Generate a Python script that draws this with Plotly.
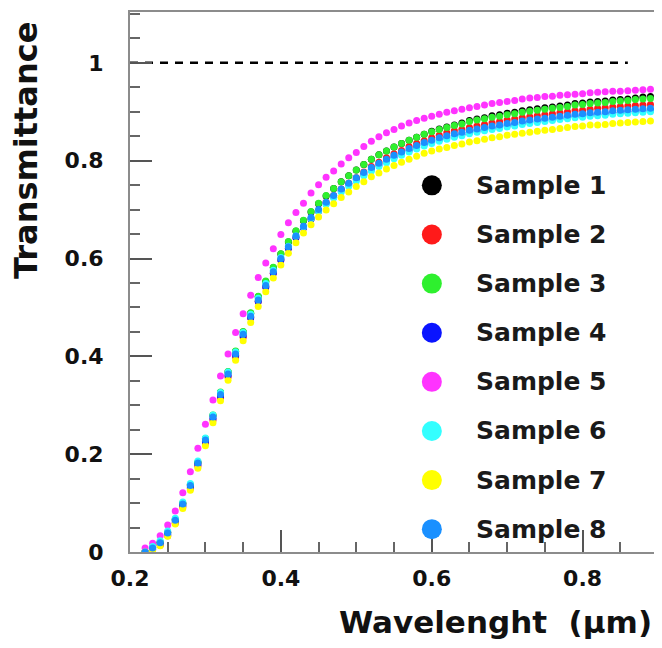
import plotly.graph_objects as go

wavelength = [0.22, 0.23, 0.24, 0.25, 0.26, 0.27, 0.28, 0.29, 0.30, 0.31,
              0.32, 0.33, 0.34, 0.35, 0.36, 0.37, 0.38, 0.39, 0.40, 0.41,
              0.42, 0.43, 0.44, 0.45, 0.46, 0.47, 0.48, 0.49, 0.50, 0.51,
              0.52, 0.53, 0.54, 0.55, 0.56, 0.57, 0.58, 0.59, 0.60, 0.61,
              0.62, 0.63, 0.64, 0.65, 0.66, 0.67, 0.68, 0.69, 0.70, 0.71,
              0.72, 0.73, 0.74, 0.75, 0.76, 0.77, 0.78, 0.79, 0.80, 0.81,
              0.82, 0.83, 0.84, 0.85, 0.86, 0.87, 0.88, 0.89]

sample1 = [0.000, 0.009, 0.020, 0.040, 0.066, 0.099, 0.137, 0.183, 0.231, 0.279,
           0.326, 0.368, 0.410, 0.450, 0.488, 0.522, 0.553, 0.581, 0.609, 0.634,
           0.656, 0.677, 0.695, 0.712, 0.728, 0.743, 0.757, 0.769, 0.781, 0.792,
           0.803, 0.812, 0.820, 0.828, 0.835, 0.842, 0.848, 0.854, 0.860, 0.865,
           0.869, 0.873, 0.877, 0.882, 0.885, 0.888, 0.892, 0.894, 0.897, 0.899,
           0.902, 0.904, 0.906, 0.908, 0.910, 0.912, 0.914, 0.917, 0.918, 0.920,
           0.921, 0.922, 0.924, 0.925, 0.926, 0.928, 0.930, 0.931]
sample2 = [0.000, 0.005, 0.014, 0.033, 0.059, 0.092, 0.130, 0.176, 0.223, 0.270,
           0.316, 0.358, 0.399, 0.439, 0.479, 0.512, 0.542, 0.570, 0.597, 0.621,
           0.643, 0.663, 0.681, 0.697, 0.715, 0.729, 0.742, 0.754, 0.765, 0.777,
           0.788, 0.797, 0.806, 0.814, 0.821, 0.829, 0.835, 0.841, 0.847, 0.852,
           0.857, 0.861, 0.864, 0.868, 0.871, 0.874, 0.877, 0.880, 0.883, 0.885,
           0.888, 0.890, 0.892, 0.894, 0.896, 0.898, 0.900, 0.902, 0.903, 0.905,
           0.907, 0.908, 0.910, 0.911, 0.912, 0.913, 0.914, 0.915]
sample3 = [0.000, 0.009, 0.020, 0.040, 0.067, 0.100, 0.138, 0.184, 0.232, 0.280,
           0.327, 0.369, 0.411, 0.451, 0.489, 0.523, 0.554, 0.582, 0.610, 0.635,
           0.657, 0.678, 0.696, 0.713, 0.729, 0.743, 0.757, 0.769, 0.781, 0.792,
           0.803, 0.812, 0.820, 0.828, 0.835, 0.842, 0.848, 0.854, 0.859, 0.864,
           0.868, 0.872, 0.875, 0.880, 0.883, 0.886, 0.889, 0.891, 0.894, 0.896,
           0.899, 0.901, 0.903, 0.905, 0.907, 0.909, 0.911, 0.914, 0.915, 0.917,
           0.918, 0.919, 0.921, 0.922, 0.923, 0.925, 0.926, 0.927]
sample4 = [0.000, 0.006, 0.016, 0.036, 0.062, 0.095, 0.133, 0.179, 0.226, 0.273,
           0.319, 0.361, 0.402, 0.442, 0.479, 0.512, 0.542, 0.570, 0.597, 0.621,
           0.643, 0.663, 0.681, 0.697, 0.712, 0.726, 0.739, 0.751, 0.762, 0.772,
           0.782, 0.791, 0.799, 0.807, 0.814, 0.821, 0.827, 0.833, 0.838, 0.843,
           0.847, 0.851, 0.854, 0.858, 0.861, 0.864, 0.867, 0.869, 0.872, 0.874,
           0.877, 0.879, 0.881, 0.883, 0.885, 0.887, 0.889, 0.891, 0.892, 0.894,
           0.895, 0.896, 0.898, 0.899, 0.900, 0.901, 0.902, 0.903]
sample5 = [0.008, 0.018, 0.033, 0.055, 0.084, 0.121, 0.164, 0.212, 0.261, 0.311,
           0.360, 0.405, 0.449, 0.487, 0.525, 0.561, 0.591, 0.620, 0.649, 0.673,
           0.694, 0.713, 0.734, 0.751, 0.766, 0.779, 0.793, 0.806, 0.817, 0.829,
           0.840, 0.849, 0.857, 0.864, 0.871, 0.877, 0.882, 0.887, 0.891, 0.895,
           0.899, 0.902, 0.905, 0.908, 0.911, 0.914, 0.917, 0.919, 0.921, 0.923,
           0.926, 0.928, 0.929, 0.931, 0.932, 0.934, 0.935, 0.936, 0.937, 0.939,
           0.940, 0.941, 0.942, 0.942, 0.943, 0.944, 0.945, 0.946]
sample6 = [0.000, 0.011, 0.023, 0.043, 0.069, 0.102, 0.140, 0.186, 0.233, 0.280,
           0.326, 0.368, 0.409, 0.449, 0.486, 0.519, 0.549, 0.576, 0.602, 0.625,
           0.646, 0.665, 0.682, 0.697, 0.711, 0.724, 0.736, 0.748, 0.758, 0.769,
           0.779, 0.788, 0.796, 0.804, 0.811, 0.818, 0.824, 0.830, 0.835, 0.840,
           0.844, 0.848, 0.851, 0.855, 0.858, 0.861, 0.864, 0.866, 0.869, 0.871,
           0.874, 0.876, 0.878, 0.880, 0.882, 0.884, 0.886, 0.888, 0.889, 0.891,
           0.892, 0.893, 0.895, 0.896, 0.897, 0.898, 0.899, 0.900]
sample7 = [0.000, 0.003, 0.013, 0.032, 0.057, 0.089, 0.126, 0.171, 0.217, 0.264,
           0.309, 0.351, 0.392, 0.432, 0.469, 0.502, 0.532, 0.560, 0.587, 0.611,
           0.632, 0.652, 0.669, 0.685, 0.699, 0.712, 0.725, 0.736, 0.747, 0.757,
           0.767, 0.775, 0.783, 0.790, 0.797, 0.803, 0.809, 0.815, 0.820, 0.824,
           0.827, 0.831, 0.834, 0.838, 0.841, 0.844, 0.847, 0.849, 0.852, 0.854,
           0.856, 0.858, 0.860, 0.862, 0.864, 0.866, 0.868, 0.870, 0.871, 0.873,
           0.873, 0.874, 0.876, 0.877, 0.878, 0.879, 0.880, 0.881]
sample8 = [0.000, 0.008, 0.019, 0.039, 0.065, 0.098, 0.136, 0.182, 0.229, 0.276,
           0.322, 0.364, 0.405, 0.445, 0.482, 0.515, 0.545, 0.573, 0.600, 0.624,
           0.646, 0.666, 0.684, 0.700, 0.715, 0.729, 0.742, 0.754, 0.765, 0.776,
           0.786, 0.795, 0.803, 0.811, 0.818, 0.825, 0.831, 0.837, 0.842, 0.847,
           0.851, 0.855, 0.858, 0.862, 0.865, 0.868, 0.871, 0.873, 0.876, 0.878,
           0.881, 0.883, 0.885, 0.887, 0.889, 0.891, 0.893, 0.895, 0.896, 0.898,
           0.899, 0.900, 0.902, 0.903, 0.904, 0.905, 0.906, 0.907]

names = ["Sample 1", "Sample 2", "Sample 3", "Sample 4",
         "Sample 5", "Sample 6", "Sample 7", "Sample 8"]
colors = ["#000000", "#ff1a1a", "#2ef02e", "#0a14ff",
          "#ff33ff", "#33ffff", "#ffff00", "#1a90ff"]
series = [sample1, sample2, sample3, sample4, sample5, sample6, sample7, sample8]

ref_x = [0.2, 0.86]
ref_y = [1.0, 1.0]

FONT = "DejaVu Sans"

fig = go.Figure()
fig.add_trace(go.Scatter(x=ref_x, y=ref_y, mode="lines", showlegend=False,
                         line=dict(color="black", width=2.5, dash="8px,7px")))
for name, color, ys in zip(names, colors, series):
    fig.add_trace(go.Scatter(x=wavelength, y=ys, mode="markers", name=name,
                             marker=dict(color=color, size=7, symbol="circle")))

# manual legend (ROOT style, big round markers)
legend_top = 184
legend_step = 49.3
for i, (name, color) in enumerate(zip(names, colors)):
    yp = (552 - (legend_top + i * legend_step)) / 542
    fig.add_shape(type="circle", xref="paper", yref="paper",
                  xsizemode="pixel", ysizemode="pixel",
                  xanchor=0.5717, yanchor=yp, x0=-10, x1=10, y0=-10, y1=10,
                  fillcolor=color, line=dict(width=0))
    fig.add_annotation(x=0.651, y=yp, xref="paper", yref="paper", text=name,
                       showarrow=False, xanchor="left", yanchor="middle",
                       font=dict(family=FONT, size=25, weight="bold", color="#1a1a1a"))

fig.add_annotation(x=0.993, y=-0.13, xref="paper", yref="paper",
                   text="Wavelenght\u00a0\u00a0(µm)", showarrow=False,
                   xanchor="right", yanchor="middle",
                   font=dict(family=FONT, size=31, weight="bold", color="#111"))
fig.add_annotation(x=-0.198, y=0.985, xref="paper", yref="paper",
                   text="Transmittance", showarrow=False, textangle=-90,
                   xanchor="center", yanchor="top",
                   font=dict(family=FONT, size=32, weight="bold", color="#111"))

axis_common = dict(showline=True, linecolor="#8c8c8c", linewidth=2, mirror=True,
                   showgrid=False, zeroline=False, ticks="inside", ticklen=22,
                   tickwidth=2, tickcolor="#555",
                   tickfont=dict(family=FONT, size=22, weight="bold", color="#111"))

fig.update_xaxes(range=[0.2, 0.9], tick0=0.2, dtick=0.2, ticklabelstandoff=6,
                 minor=dict(dtick=0.05, tick0=0.2, ticks="inside", ticklen=10,
                            tickwidth=2, tickcolor="#666"),
                 **axis_common)
fig.update_yaxes(range=[0, 1.104], tickvals=[0, 0.2, 0.4, 0.6, 0.8, 1],
                 ticktext=["0", "0.2", "0.4", "0.6", "0.8", "1"], ticklabelstandoff=20,
                 minor=dict(dtick=0.05, tick0=0, ticks="inside", ticklen=10,
                            tickwidth=2, tickcolor="#666"),
                 **axis_common)

# the page body has an 8px margin, so the figure is 8px smaller on each side
fig.update_layout(width=654, height=640, showlegend=False,
                  margin=dict(l=122, r=2, t=2, b=96),
                  paper_bgcolor="white", plot_bgcolor="white")

fig.write_html("out.html")
